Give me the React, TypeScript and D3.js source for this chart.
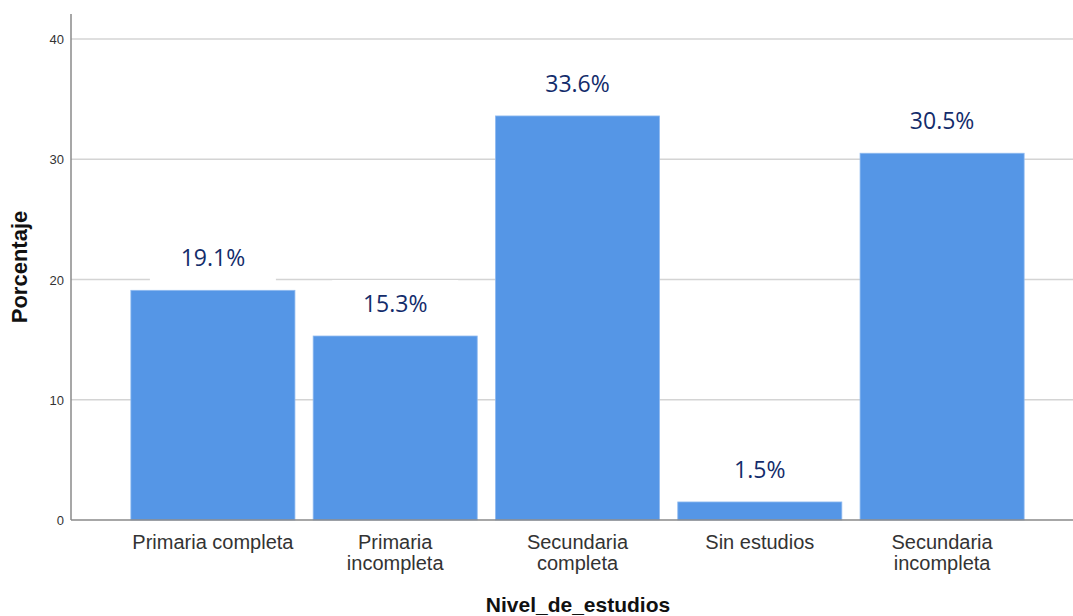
import React from "react";
import * as d3 from "d3";

const categories = ["Primaria completa", "Primaria incompleta", "Secundaria completa", "Sin estudios", "Secundaria incompleta"];
const categoryLines = [["Primaria completa"], ["Primaria", "incompleta"], ["Secundaria", "completa"], ["Sin estudios"], ["Secundaria", "incompleta"]];
const percentages = [19.1, 15.3, 33.6, 1.5, 30.5];
const yTicks = [0, 10, 20, 30, 40];

const W = 1073;
const H = 616;

export default function App() {
  const x = d3.scaleBand<string>().domain(categories).range([121.75, 1033.25]).paddingInner(0.1).paddingOuter(0.05);
  const y = d3.scaleLinear().domain([0, 40]).range([520, 39]);
  const axisX = 71;
  const sans = "'Liberation Sans', Arial, sans-serif";
  const labelFont = "'Open Sans', 'Noto Sans', sans-serif";

  return (
    <svg width={W} height={H} style={{ position: "absolute", left: 0, top: 0, background: "#fff" }}>
      {yTicks.filter(t => t > 0).map(t => (
        <line key={"g" + t} x1={axisX} x2={W} y1={y(t)} y2={y(t)} stroke="#d4d4d4" strokeWidth={1.5} />
      ))}
      {categories.map((c, i) => {
        const cx = x(c)! + x.bandwidth() / 2;
        const ty = y(percentages[i]) - 24;
        return <rect key={"lb" + c} x={cx - 63} y={ty - 32} width={126} height={54} fill="#fff" />;
      })}
      {categories.map((c, i) => (
        <rect key={c} x={x(c)!} y={y(percentages[i])} width={x.bandwidth()} height={y(0) - y(percentages[i])}
          fill="#5596e6" stroke="#8fbaf0" strokeWidth={0.8} />
      ))}
      {categories.map((c, i) => {
        const cx = x(c)! + x.bandwidth() / 2;
        return (
          <text key={"t" + c} x={cx} y={y(percentages[i]) - 24} textAnchor="middle" fontFamily={labelFont}
            fontSize={23} fill="#132c6b">{percentages[i].toFixed(1)}%</text>
        );
      })}
      <line x1={axisX} x2={axisX} y1={14} y2={520} stroke="#8a8a8a" strokeWidth={1.5} />
      <line x1={axisX} x2={W} y1={520} y2={520} stroke="#8a8a8a" strokeWidth={1.5} />
      {yTicks.map(t => (
        <text key={"yt" + t} x={64} y={y(t) + 5} textAnchor="end" fontFamily={sans} fontSize={13} fill="#333">{t}</text>
      ))}
      {categories.map((c, i) => {
        const cx = x(c)! + x.bandwidth() / 2;
        return (
          <text key={"xl" + c} x={cx} textAnchor="middle" fontFamily={sans} fontSize={20} fill="#333">
            {categoryLines[i].map((l, j) => (
              <tspan key={j} x={cx} y={549 + j * 21}>{l}</tspan>
            ))}
          </text>
        );
      })}
      <text x={578} y={612} textAnchor="middle" fontFamily={sans} fontSize={21} fontWeight="bold" fill="#111">Nivel_de_estudios</text>
      <text transform={`translate(27,267) rotate(-90)`} textAnchor="middle" fontFamily={sans} fontSize={22} fontWeight="bold" fill="#111">Porcentaje</text>
    </svg>
  );
}
